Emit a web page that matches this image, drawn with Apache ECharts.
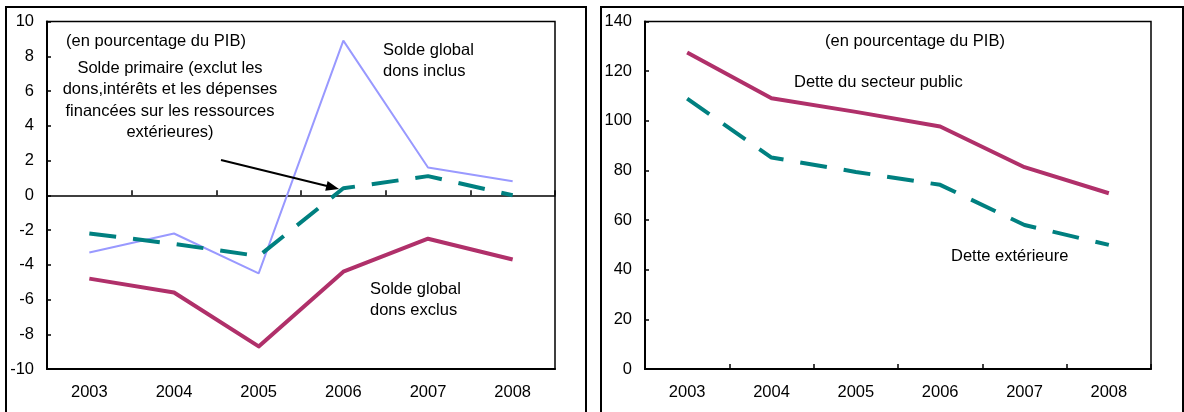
<!DOCTYPE html>
<html>
<head>
<meta charset="utf-8">
<script src="https://cdn.jsdelivr.net/npm/echarts@6/dist/echarts.min.js"></script>
<style>
  html, body { margin: 0; padding: 0; background: #fff; }
  #chart { width: 1184px; height: 412px; }
</style>
</head>
<body>
<div id="chart"></div>
<script>
// Years shown on both panels
const years = ['2003', '2004', '2005', '2006', '2007', '2008'];

// Left panel: budget balances (% of GDP)
const soldeGlobalDonsInclus = [-3.3, -2.2, -4.5, 8.9, 1.6, 0.8];
const soldePrimaire = [-2.2, -2.8, -3.5, 0.4, 1.1, 0.0];
const soldeGlobalDonsExclus = [-4.8, -5.6, -8.7, -4.4, -2.5, -3.7];

// Right panel: debt (% of GDP)
const detteSecteurPublic = [127.5, 109.1, 103.6, 97.7, 81.3, 70.8];
const detteExterieure = [108.9, 85.2, 79.4, 74.2, 58.0, 50.0];

// Axis ranges
const leftAxis = { min: -10, max: 10, interval: 2 };
const rightAxis = { min: 0, max: 140, interval: 20 };

const FONT = '"Liberation Sans", Arial, sans-serif';
const FS = 16.5;
const MAGENTA = '#B0306A';
const TEAL = '#008080';
const LAVENDER = '#9999FF';
const DASH = [27, 17];

const chart = echarts.init(document.getElementById('chart'), null, { renderer: 'canvas' });

const labelStyle = { color: '#000', fontFamily: FONT, fontSize: FS };

function txt(text, x, y, align) {
  return {
    type: 'text',
    z: 100,
    style: {
      text: text,
      x: x,
      y: y,
      align: align,
      verticalAlign: 'top',
      fill: '#000',
      fontFamily: FONT,
      fontSize: FS,
      lineHeight: 21.5
    }
  };
}

const option = {
  animation: false,
  backgroundColor: '#fff',
  grid: [
    { left: 47, top: 21.5, right: 629, bottom: 43, show: true, borderColor: '#000', borderWidth: 1.5 },
    { left: 645, top: 21.5, right: 33, bottom: 43, show: true, borderColor: '#000', borderWidth: 1.5 }
  ],
  xAxis: [
    {
      // zero line with the category ticks
      gridIndex: 0, type: 'category', data: years, position: 'bottom', boundaryGap: true,
      axisLine: { onZero: true, lineStyle: { color: '#000', width: 1.5 } },
      axisTick: { show: true, inside: true, length: 5, lineStyle: { color: '#000', width: 1.5 } },
      axisLabel: { show: false },
      splitLine: { show: false }
    },
    {
      // year labels along the bottom edge
      gridIndex: 0, type: 'category', data: years, position: 'bottom', boundaryGap: true,
      axisLine: { onZero: false, lineStyle: { color: '#000', width: 2 } },
      axisTick: { show: false },
      axisLabel: Object.assign({ margin: 15 }, labelStyle),
      splitLine: { show: false }
    },
    {
      gridIndex: 1, type: 'category', data: years, position: 'bottom', boundaryGap: true,
      axisLine: { onZero: false, lineStyle: { color: '#000', width: 2 } },
      axisTick: { show: true, inside: true, length: 5, lineStyle: { color: '#000', width: 1.5 } },
      axisLabel: Object.assign({ margin: 15 }, labelStyle),
      splitLine: { show: false }
    }
  ],
  yAxis: [
    {
      gridIndex: 0, type: 'value', min: leftAxis.min, max: leftAxis.max, interval: leftAxis.interval,
      axisLine: { show: true, onZero: false, lineStyle: { color: '#000', width: 2 } },
      axisTick: { show: true, inside: true, length: 4, lineStyle: { color: '#000', width: 1.5 } },
      axisLabel: Object.assign({ margin: 13 }, labelStyle),
      splitLine: { show: false }
    },
    {
      gridIndex: 1, type: 'value', min: rightAxis.min, max: rightAxis.max, interval: rightAxis.interval,
      axisLine: { show: true, onZero: false, lineStyle: { color: '#000', width: 2 } },
      axisTick: { show: true, inside: true, length: 4, lineStyle: { color: '#000', width: 1.5 } },
      axisLabel: Object.assign({ margin: 13 }, labelStyle),
      splitLine: { show: false }
    }
  ],
  series: [
    {
      name: 'Solde global dons inclus', type: 'line', xAxisIndex: 0, yAxisIndex: 0,
      data: soldeGlobalDonsInclus, showSymbol: false,
      lineStyle: { color: LAVENDER, width: 2 }
    },
    {
      name: 'Solde primaire', type: 'line', xAxisIndex: 0, yAxisIndex: 0,
      data: soldePrimaire, showSymbol: false,
      lineStyle: { color: TEAL, width: 4, type: DASH, cap: 'butt' }
    },
    {
      name: 'Solde global dons exclus', type: 'line', xAxisIndex: 0, yAxisIndex: 0,
      data: soldeGlobalDonsExclus, showSymbol: false,
      lineStyle: { color: MAGENTA, width: 4, join: 'round' }
    },
    {
      name: 'Dette du secteur public', type: 'line', xAxisIndex: 2, yAxisIndex: 1,
      data: detteSecteurPublic, showSymbol: false,
      lineStyle: { color: MAGENTA, width: 4, join: 'round' }
    },
    {
      name: 'Dette extérieure', type: 'line', xAxisIndex: 2, yAxisIndex: 1,
      data: detteExterieure, showSymbol: false,
      lineStyle: { color: TEAL, width: 4, type: DASH, cap: 'butt' }
    }
  ],
  graphic: [
    // panel frames
    { type: 'rect', shape: { x: 6, y: 7, width: 580, height: 420 }, style: { fill: 'none', stroke: '#000', lineWidth: 2 }, z: 0 },
    { type: 'rect', shape: { x: 601, y: 7, width: 582, height: 420 }, style: { fill: 'none', stroke: '#000', lineWidth: 2 }, z: 0 },

    // left panel notes
    txt('(en pourcentage du PIB)', 156, 31, 'center'),
    txt('Solde primaire (exclut les\ndons,intérêts et les dépenses\nfinancées sur les ressources\nextérieures)', 170, 57.5, 'center'),
    txt('Solde global\ndons inclus', 383, 39.5, 'left'),
    txt('Solde global\ndons exclus', 370, 278.5, 'left'),

    // pointer to the primary balance line
    { type: 'line', z: 100, shape: { x1: 221, y1: 160, x2: 327, y2: 186 }, style: { stroke: '#000', lineWidth: 2 } },
    { type: 'polygon', z: 100, shape: { points: [[339, 189], [325.2, 190.8], [327.6, 181]] }, style: { fill: '#000' } },

    // right panel notes
    txt('(en pourcentage du PIB)', 915, 31, 'center'),
    txt('Dette du secteur public', 794, 71.5, 'left'),
    txt('Dette extérieure', 951, 245.5, 'left')
  ]
};

chart.setOption(option);
</script>
</body>
</html>
